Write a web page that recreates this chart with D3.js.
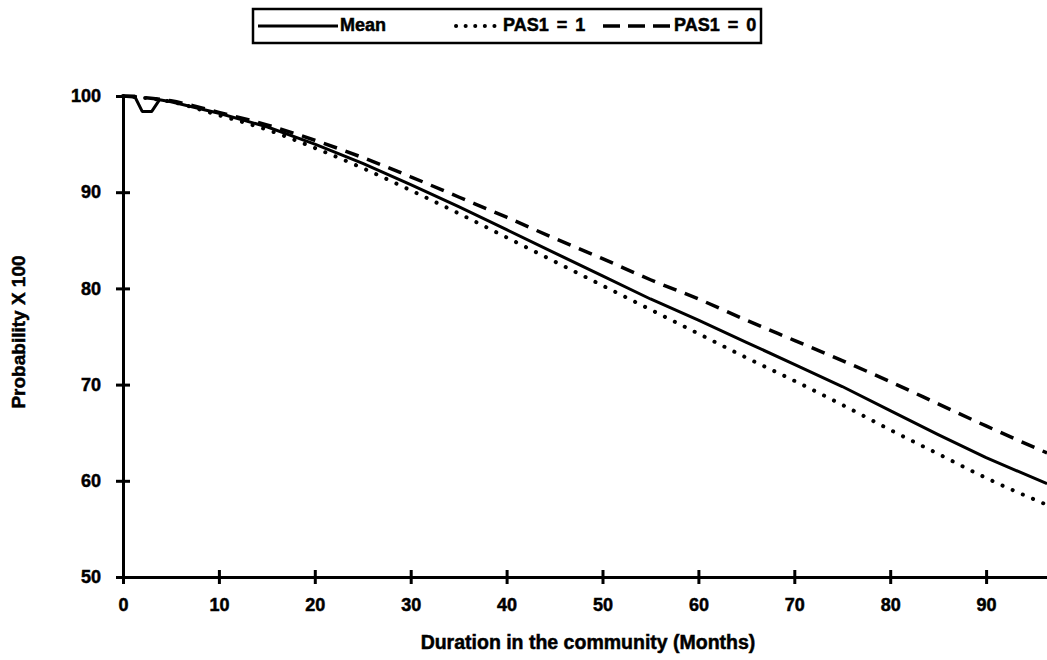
<!DOCTYPE html>
<html>
<head>
<meta charset="utf-8">
<script src="https://cdn.jsdelivr.net/npm/d3@7/dist/d3.min.js"></script>
<style>
  html, body { margin: 0; padding: 0; background: #fff; }
  svg { display: block; }
  text { font-family: "Liberation Sans", Arial, sans-serif; font-weight: bold; fill: #000; stroke: #000; stroke-width: 0.5px; }
</style>
</head>
<body>
<svg id="chart" width="1047" height="660"></svg>
<script>
// Survival probability (x100) by months spent in the community
const months     = [0, 1.2, 2, 3, 3.8, 5, 10, 15, 20, 25, 30, 35, 40, 45, 50, 55, 60, 65, 70, 75, 80, 85, 90, 96.35];
const meanVals   = [100, 100, 98.4, 98.4, 99.6, 99.4, 98.2, 96.8, 95.0, 93.0, 90.8, 88.5, 86.1, 83.7, 81.3, 78.9, 76.7, 74.4, 72.1, 69.8, 67.3, 64.8, 62.4, 59.7];

const monthsGroup = [0, 5, 10, 15, 20, 25, 30, 35, 40, 45, 50, 55, 60, 65, 70, 75, 80, 85, 90, 96.35];
const pas1One    = [100, 99.4, 98.0, 96.5, 94.6, 92.5, 90.2, 87.8, 85.3, 82.8, 80.3, 77.8, 75.3, 72.8, 70.4, 67.9, 65.3, 62.8, 60.3, 57.5];
const pas1Zero   = [100, 99.5, 98.3, 97.0, 95.4, 93.6, 91.6, 89.5, 87.4, 85.2, 83.1, 80.9, 78.9, 76.7, 74.6, 72.5, 70.3, 68.0, 65.7, 62.9];

const xTicks = [0, 10, 20, 30, 40, 50, 60, 70, 80, 90];
const yTicks = [50, 60, 70, 80, 90, 100];
const seriesNames = ["Mean", "PAS1 = 1", "PAS1 = 0"];

const svg = d3.select("#chart");

const x = d3.scaleLinear().domain([0, 96.35]).range([123, 1047]);
const y = d3.scaleLinear().domain([50, 100]).range([577, 96]);

const tickFont = sel => sel
  .style("font-size", "18px")
  .style("font-family", "'Liberation Sans', Arial, sans-serif")
  .style("font-weight", "bold")
  .attr("fill", "#000").attr("stroke", "#000").attr("stroke-width", 0.5);

// Axes: tick marks cross the axis line on both sides
const xAxis = d3.axisBottom(x).tickValues(xTicks).tickSize(6).tickSizeOuter(0).tickFormat(d3.format("d"));
const gx = svg.append("g").attr("transform", `translate(0,${y(50)})`).call(xAxis);
gx.select(".domain").attr("stroke", "#000").attr("stroke-width", 3);
gx.selectAll(".tick line").attr("stroke", "#000").attr("stroke-width", 3).attr("y1", -7).attr("y2", 7);
gx.selectAll(".tick text").attr("y", 28).attr("dy", "0.35em").call(tickFont);

const yAxis = d3.axisLeft(y).tickValues(yTicks).tickSize(6).tickSizeOuter(0).tickFormat(d3.format("d"));
const gy = svg.append("g").attr("transform", `translate(${x(0)},0)`).call(yAxis);
gy.select(".domain").attr("stroke", "#000").attr("stroke-width", 3);
gy.selectAll(".tick line").attr("stroke", "#000").attr("stroke-width", 3).attr("x1", -7).attr("x2", 7);
gy.selectAll(".tick text").attr("x", -22).call(tickFont);

// Axis titles
svg.append("text")
  .attr("x", 588).attr("y", 644)
  .attr("text-anchor", "middle").attr("dominant-baseline", "middle")
  .style("font-size", "19.5px")
  .text("Duration in the community (Months)");

svg.append("text")
  .attr("transform", `translate(20,332) rotate(-90)`)
  .attr("text-anchor", "middle").attr("dominant-baseline", "middle")
  .style("font-size", "19px")
  .text("Probability X 100");

// Curves
const line = d3.line().x(d => x(d[0])).y(d => y(d[1]));
const styles = [
  { dash: null, width: 3 },
  { dash: "0.1 11", width: 4, cap: "round" },
  { dash: "14 9", width: 3.5, cap: "butt" }
];

svg.append("path")
  .datum(monthsGroup.map((m, i) => [m, pas1Zero[i]]))
  .attr("d", line.curve(d3.curveMonotoneX))
  .attr("fill", "none").attr("stroke", "#000")
  .attr("stroke-width", styles[2].width).attr("stroke-dasharray", styles[2].dash);

svg.append("path")
  .datum(monthsGroup.map((m, i) => [m, pas1One[i]]))
  .attr("d", line.curve(d3.curveMonotoneX))
  .attr("fill", "none").attr("stroke", "#000")
  .attr("stroke-width", styles[1].width).attr("stroke-dasharray", styles[1].dash)
  .attr("stroke-linecap", "round");

svg.append("path")
  .datum(months.map((m, i) => [m, meanVals[i]]))
  .attr("d", line.curve(d3.curveLinear))
  .attr("fill", "none").attr("stroke", "#000")
  .attr("stroke-width", styles[0].width).attr("stroke-linejoin", "round");

// Legend box
const legend = svg.append("g");
legend.append("rect")
  .attr("x", 253).attr("y", 9).attr("width", 508).attr("height", 34)
  .attr("fill", "#fff").attr("stroke", "#000").attr("stroke-width", 2.5);

const legendItems = [
  { name: seriesNames[0], x1: 258, x2: 338, tx: 340, style: styles[0] },
  { name: seriesNames[1], x1: 456, x2: 497, tx: 503, style: styles[1] },
  { name: seriesNames[2], x1: 603, x2: 672, tx: 674, style: styles[2] }
];
legendItems.forEach(it => {
  legend.append("line")
    .attr("x1", it.x1).attr("x2", it.x2).attr("y1", 26).attr("y2", 26)
    .attr("stroke", "#000").attr("stroke-width", it.style.width)
    .attr("stroke-dasharray", it.style.dash === "0.1 11" ? "0.1 9.5" : (it.style.dash ? "17 8" : null))
    .attr("stroke-linecap", it.style.cap || "butt");
  legend.append("text")
    .attr("x", it.tx).attr("y", 26).attr("dominant-baseline", "middle")
    .style("font-size", "18px")
    .style("word-spacing", "3px")
    .text(it.name);
});
</script>
</body>
</html>
